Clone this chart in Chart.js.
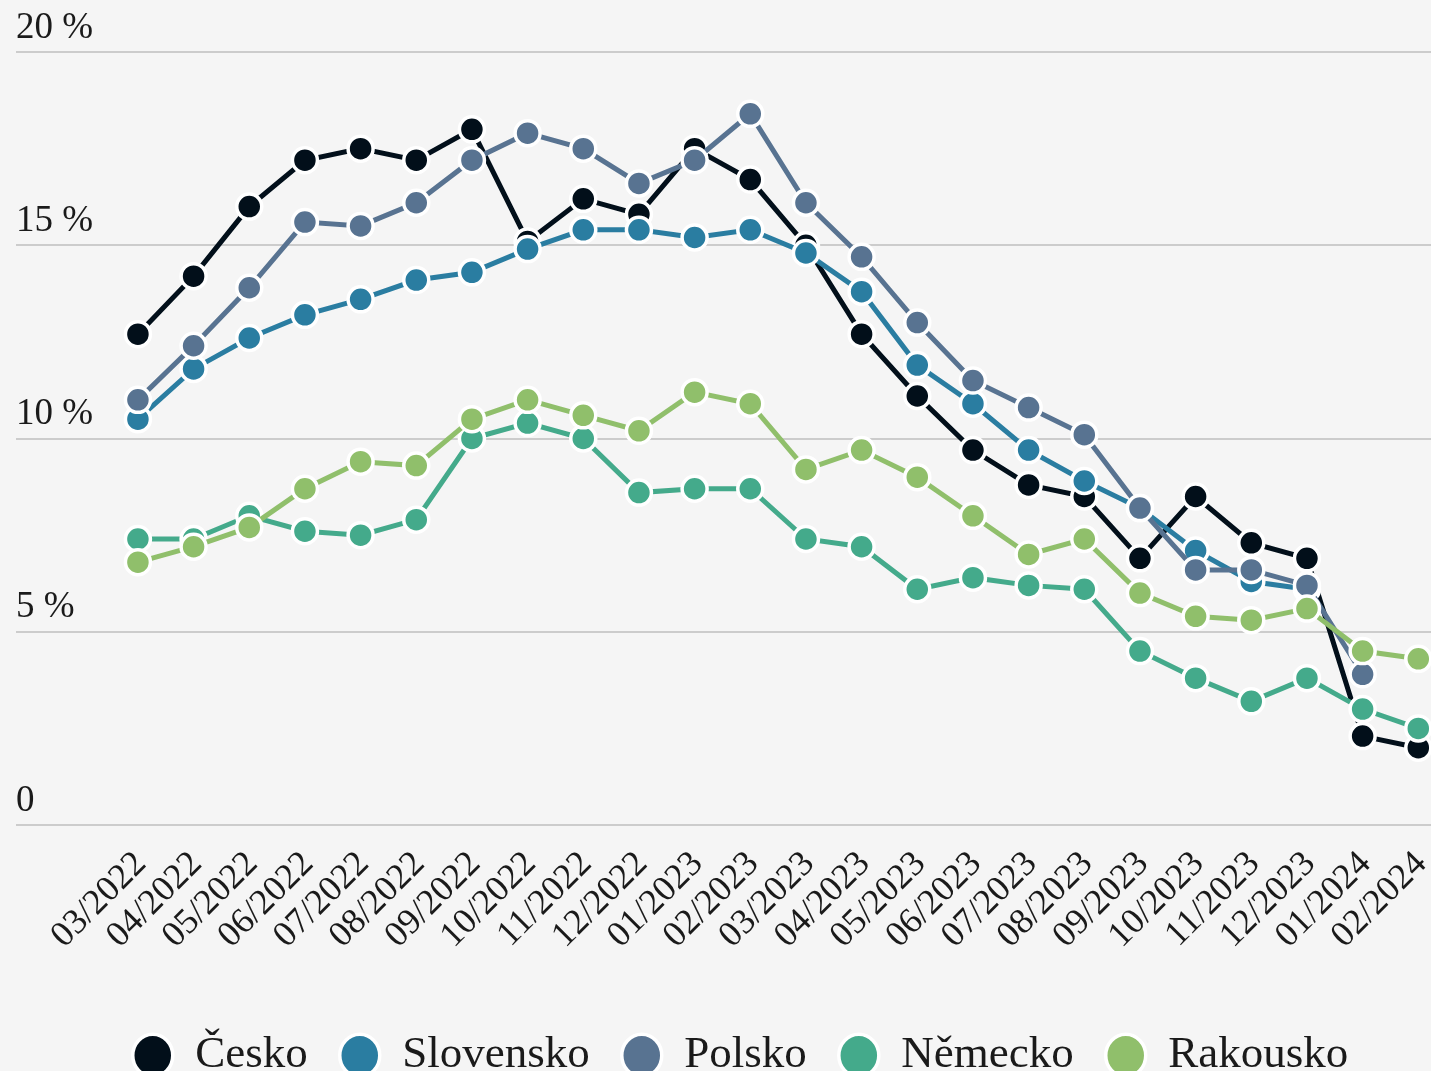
<!DOCTYPE html>
<html>
<head>
<meta charset="utf-8">
<script src="https://cdn.jsdelivr.net/npm/chart.js@4"></script>
<style>
  html, body { margin: 0; padding: 0; background: #f5f5f5; overflow: hidden; width: 1431px; height: 1071px; }
  #wrap { position: absolute; left: 0; top: 0; width: 1467px; height: 1088px; }
</style>
</head>
<body>
<div id="wrap"><canvas id="c"></canvas></div>
<script>
const months = ['03/2022','04/2022','05/2022','06/2022','07/2022','08/2022','09/2022','10/2022','11/2022','12/2022','01/2023','02/2023','03/2023','04/2023','05/2023','06/2023','07/2023','08/2023','09/2023','10/2023','11/2023','12/2023','01/2024','02/2024'];

const cesko     = [12.7, 14.2, 16.0, 17.2, 17.5, 17.2, 18.0, 15.1, 16.2, 15.8, 17.5, 16.7, 15.0, 12.7, 11.1, 9.7, 8.8, 8.5, 6.9, 8.5, 7.3, 6.9, 2.3, 2.0];
const slovensko = [10.5, 11.8, 12.6, 13.2, 13.6, 14.1, 14.3, 14.9, 15.4, 15.4, 15.2, 15.4, 14.8, 13.8, 11.9, 10.9, 9.7, 8.9, 8.2, 7.1, 6.3, 6.1, null, null];
const polsko    = [11.0, 12.4, 13.9, 15.6, 15.5, 16.1, 17.2, 17.9, 17.5, 16.6, 17.2, 18.4, 16.1, 14.7, 13.0, 11.5, 10.8, 10.1, 8.2, 6.6, 6.6, 6.2, 3.9, null];
const nemecko   = [7.4, 7.4, 8.0, 7.6, 7.5, 7.9, 10.0, 10.4, 10.0, 8.6, 8.7, 8.7, 7.4, 7.2, 6.1, 6.4, 6.2, 6.1, 4.5, 3.8, 3.2, 3.8, 3.0, 2.5];
const rakousko  = [6.8, 7.2, 7.7, 8.7, 9.4, 9.3, 10.5, 11.0, 10.6, 10.2, 11.2, 10.9, 9.2, 9.7, 9.0, 8.0, 7.0, 7.4, 6.0, 5.4, 5.3, 5.6, 4.5, 4.3];

const seriesNames  = ['Česko', 'Slovensko', 'Polsko', 'Německo', 'Rakousko'];
const seriesValues = [cesko, slovensko, polsko, nemecko, rakousko];
const seriesColors = ['#020f1a', '#2a7da1', '#587391', '#44aa8b', '#90bf6b'];

const yTickValues = [0, 5, 10, 15, 20];
const yTickLabels = ['0', '5 %', '10 %', '15 %', '20 %'];

const FONT = "'Liberation Serif', 'Times New Roman', serif";

const datasets = seriesNames.map((name, si) => ({
  label: name,
  data: seriesValues[si].map((v, i) => ({ x: i, y: v })),
  borderColor: seriesColors[si],
  backgroundColor: seriesColors[si],
  pointBackgroundColor: seriesColors[si],
  pointBorderColor: '#ffffff',
  pointBorderWidth: 3.5,
  pointRadius: 12.5,
  borderWidth: 5,
  tension: 0,
  spanGaps: false,
  order: seriesNames.length - si
}));

new Chart(document.getElementById('c'), {
  type: 'line',
  data: { datasets },
  options: {
    responsive: true,
    maintainAspectRatio: false,
    animation: false,
    events: [],
    layout: { padding: { left: 14, right: 0, top: 52, bottom: 0 } },
    plugins: {
      tooltip: { enabled: false },
      legend: {
        position: 'bottom',
        labels: {
          usePointStyle: true,
          pointStyle: 'circle',
          pointStyleWidth: 40,
          boxHeight: 30,
          padding: 32,
          color: '#1a1a1a',
          font: { family: FONT, size: 45 },
          sort: (a, b) => a.datasetIndex - b.datasetIndex
        }
      }
    },
    scales: {
      x: {
        type: 'linear',
        min: -2.19,
        max: 23.25,
        grid: { display: false, drawTicks: false },
        border: { display: false },
        title: { display: true, text: ' ', font: { size: 10 }, padding: { top: 14, bottom: 0 } },
        afterBuildTicks: (axis) => { axis.ticks = months.map((_, i) => ({ value: i })); },
        ticks: {
          autoSkip: false,
          maxRotation: 45,
          minRotation: 45,
          padding: 18,
          labelOffset: 3,
          color: '#1a1a1a',
          font: { family: FONT, size: 36 },
          callback: (v) => months[v] ?? ''
        }
      },
      y: {
        min: 0,
        max: 20,
        grid: { color: '#cccccc', lineWidth: 2, drawTicks: false },
        border: { display: false },
        afterBuildTicks: (axis) => { axis.ticks = yTickValues.map(v => ({ value: v })); },
        ticks: {
          mirror: true,
          padding: 0,
          labelOffset: -24,
          color: '#1a1a1a',
          font: { family: FONT, size: 37 },
          callback: (v) => yTickLabels[yTickValues.indexOf(v)]
        }
      }
    }
  }
});
</script>
</body>
</html>
